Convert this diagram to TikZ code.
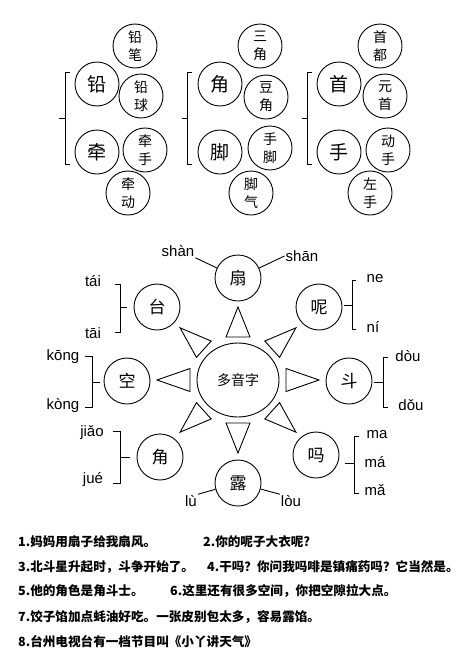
\documentclass[tikz,border=0pt]{standalone}
\usepackage{fontspec}
\setmainfont{Liberation Sans}
\newfontfamily\cjk{Noto Sans CJK SC}
\usetikzlibrary{calc,shapes.geometric}
\tikzset{
  lw/.style={line width=0.9pt},
  big/.style={circle,draw,lw,minimum size=44pt,inner sep=0pt,font=\cjk\fontsize{19}{19}\selectfont},
  pair/.style={circle,draw,lw,minimum size=44pt,inner sep=0pt,align=center,font=\cjk\fontsize{14}{18}\selectfont},
  mid/.style={circle,draw,lw,minimum size=46pt,inner sep=0pt,font=\cjk\fontsize{17}{17}\selectfont},
  py/.style={font=\fontsize{15}{15}\selectfont,inner sep=1pt},
  tri/.style={draw,lw,line join=miter},
  sent/.style={anchor=west,inner sep=0pt,font=\cjk\bfseries\fontsize{12.6}{12.6}\selectfont},
}
\begin{document}
\begin{tikzpicture}[x=1pt,y=-1pt]
\useasboundingbox (0,0) rectangle (459,664);
% ---------- top groups ----------
\node[big] (qian) at (97,84) {铅};
\node[big] (qian2) at (97,152) {牵};
\node[pair] (qb) at (135,46) {铅\\笔};
\node[pair] (qq) at (141,96) {铅\\球};
\node[pair] (qs) at (145,150) {牵\\手};
\node[pair] (qd) at (128,193) {牵\\动};
\draw[lw] (70,72) -- (65,72) -- (65,164) -- (70,164);
\draw[lw] (65,118) -- (59,118);

\node[big] (jiao) at (220,84) {角};
\node[big] (jiaof) at (220,152) {脚};
\node[pair] (sj) at (260,46) {三\\角};
\node[pair] (dj) at (266,97) {豆\\角};
\node[pair] (sjf) at (270,148) {手\\脚};
\node[pair] (jq) at (251,193) {脚\\气};
\draw[lw] (192,72) -- (187,72) -- (187,164) -- (192,164);
\draw[lw] (187,118) -- (182,118);

\node[big] (shou) at (339,84) {首};
\node[big] (shou2) at (339,152) {手};
\node[pair] (sd) at (380,46) {首\\都};
\node[pair] (ys) at (385,96) {元\\首};
\node[pair] (ds) at (388,150) {动\\手};
\node[pair] (zs) at (370,193) {左\\手};
\draw[lw] (312,72) -- (307,72) -- (307,164) -- (312,164);
\draw[lw] (307,118) -- (302,118);

% ---------- middle star ----------
\node[ellipse,draw,lw,minimum width=82pt,minimum height=74pt,inner sep=0pt,font=\cjk\fontsize{14}{14}\selectfont] (c) at (238,380) {多音字};
\node[mid] (fan) at (238,278) {扇};
\node[mid] (tai) at (157,307) {台};
\node[mid] (ne) at (319,307) {呢};
\node[mid] (kong) at (127,381) {空};
\node[mid] (dou) at (349,381) {斗};
\node[mid] (jue) at (160,457) {角};
\node[mid] (ma) at (316,455) {吗};
\node[mid] (lu) at (238,483) {露};

\foreach \a/\ra/\rb/\w in {-90/43/73/12, 90/43/73/12, 180/48/81/11.5, 0/48/81/11.5,
  -138/46/78/11, -42/46/78/11, 138/46/78/11, 42/46/78/11}
  \draw[tri] ($(c.center)+(\a:\ra)+(\a+90:\w)$) -- ($(c.center)+(\a:\rb)$)
     -- ($(c.center)+(\a:\ra)+(\a-90:\w)$) -- cycle;

% 扇
\node[py] (shan1) at (178,251) {shàn};
\node[py] (shan2) at (302,256) {shān};
\draw[lw] (shan1.south east) -- (fan);
\draw[lw] (shan2.west) -- (fan);
% 台
\node[py] (tai1) at (93,281) {tái};
\node[py] (tai2) at (93,333) {tāi};
\draw[lw] (115,284) -- (120,284) -- (120,332) -- (115,332);
\draw[lw] (120,307) -- (127,307);
% 呢
\node[py] (ne1) at (375,279) {ne};
\node[py] (ne2) at (373,327) {ní};
\draw[lw] (356,280) -- (352,280) -- (352,329) -- (356,329);
\draw[lw] (352,305) -- (344,305);
% 空
\node[py] (kong1) at (63,357) {kōng};
\node[py] (kong2) at (63,406) {kòng};
\draw[lw] (85,356) -- (92,356) -- (92,407) -- (85,407);
\draw[lw] (92,382) -- (100,382);
% 角
\node[py] (jue1) at (92,433) {jiǎo};
\node[py] (jue2) at (93,480) {jué};
\draw[lw] (113,431) -- (120,431) -- (120,483) -- (113,483);
\draw[lw] (120,457) -- (130,457);
% 斗
\node[py] (dou1) at (408,356) {dòu};
\node[py] (dou2) at (411,405) {dǒu};
\draw[lw] (388,357) -- (383,357) -- (383,407) -- (388,407);
\draw[lw] (383,382) -- (374,382);
% 吗
\node[py] (ma1) at (377,435) {ma};
\node[py] (ma2) at (375,462) {má};
\node[py] (ma3) at (375,490) {mǎ};
\draw[lw] (359,436) -- (354,436) -- (354,493) -- (359,493);
\draw[lw] (354,463) -- (345,463);
% 露
\node[py] (lu1) at (191,501) {lù};
\node[py] (lu2) at (291,501) {lòu};
\draw[lw] (lu1.north east) -- (lu);
\draw[lw] (lu) -- (lu2.north west);

% ---------- sentences ----------
\node[sent] (s1) at (18,542) {1.妈妈用扇子给我扇风。};
\node[sent] (s2) at (203,542) {2.你的呢子大衣呢?};
\node[sent] (s3) at (18,567) {3.北斗星升起时，斗争开始了。};
\node[sent] (s4) at (207,567) {4.干吗？你问我吗啡是镇痛药吗？它当然是。};
\node[sent] (s5) at (18,591) {5.他的角色是角斗士。};
\node[sent] (s6) at (170,591) {6.这里还有很多空间，你把空隙拉大点。};
\node[sent] (s7) at (18,617) {7.饺子馅加点蚝油好吃。一张皮别包太多，容易露馅。};
\node[sent] (s8) at (18,642) {8.台州电视台有一档节目叫《小丫讲天气》};
\end{tikzpicture}
\end{document}
